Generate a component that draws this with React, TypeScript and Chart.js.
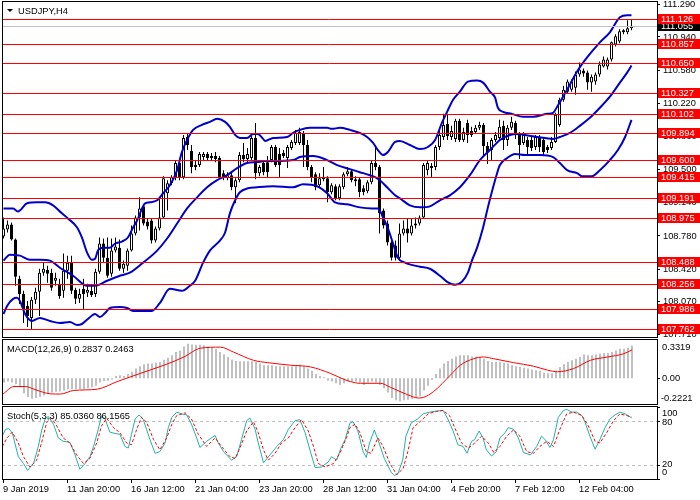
import React, { useEffect, useRef } from "react";
import { Chart, registerables } from "chart.js";

Chart.register(...registerables);

// ---------------- DATA ----------------
const symbolTitle = "USDJPY,H4";

const opens = [
  108.769, 108.845, 108.900, 108.736, 108.310, 108.146, 108.015, 107.884, 108.081, 108.168,
  108.376, 108.408, 108.376, 108.288, 108.255, 108.179, 108.398, 108.485, 108.190, 108.092,
  108.201, 108.157, 108.179, 108.146, 108.387, 108.692, 108.539, 108.365, 108.616, 108.648,
  108.419, 108.452, 108.616, 108.801, 108.976, 109.096, 108.932, 108.943, 108.725, 108.856,
  108.976, 109.238, 109.347, 109.413, 109.566, 109.413, 109.849, 109.696, 109.522, 109.544,
  109.631, 109.664, 109.620, 109.642, 109.620, 109.456, 109.402, 109.434, 109.303, 109.380,
  109.653, 109.609, 109.620, 109.838, 109.456, 109.566, 109.576, 109.598, 109.740, 109.664,
  109.675, 109.620, 109.729, 109.784, 109.784, 109.893, 109.762, 109.522, 109.445, 109.325,
  109.391, 109.402, 109.249, 109.314, 109.183, 109.303, 109.445, 109.478, 109.391, 109.391,
  109.292, 109.260, 109.358, 109.566, 109.522, 109.052, 108.910, 108.703, 108.670, 108.539,
  108.801, 108.856, 108.801, 108.889, 108.910, 108.976, 109.489, 109.511, 109.522, 109.740,
  109.849, 109.991, 109.849, 109.828, 110.024, 109.817, 110.002, 109.915, 109.904, 109.948,
  109.980, 109.751, 109.707, 109.817, 109.838, 109.970, 109.817, 109.948, 110.002, 109.871,
  109.784, 109.817, 109.817, 109.740, 109.838, 109.817, 109.740, 109.729, 109.795, 109.980,
  110.253, 110.341, 110.362, 110.384, 110.526, 110.570, 110.548, 110.439, 110.450, 110.526,
  110.614, 110.614, 110.690, 110.854, 110.886, 111.007, 110.985, 111.028,
];

const highs = [
  108.976, 108.943, 108.921, 108.747, 108.343, 108.179, 108.070, 108.113, 108.212, 108.419,
  108.485, 108.452, 108.419, 108.376, 108.310, 108.583, 108.561, 108.561, 108.212, 108.201,
  108.310, 108.255, 108.234, 108.419, 108.758, 108.747, 108.758, 108.747, 108.758, 108.736,
  108.507, 108.638, 108.889, 108.998, 109.194, 109.107, 108.965, 108.965, 108.878, 109.194,
  109.423, 109.380, 109.434, 109.598, 109.598, 109.871, 109.893, 109.762, 109.598, 109.686,
  109.686, 109.686, 109.675, 109.686, 109.642, 109.489, 109.467, 109.467, 109.402, 109.686,
  109.784, 109.729, 109.860, 110.002, 109.544, 109.598, 109.642, 109.762, 109.762, 109.729,
  109.707, 109.762, 109.817, 109.926, 109.948, 109.915, 109.817, 109.544, 109.467, 109.456,
  109.522, 109.423, 109.347, 109.336, 109.336, 109.467, 109.522, 109.500, 109.423, 109.413,
  109.325, 109.380, 109.598, 109.762, 109.544, 109.074, 108.943, 108.725, 108.725, 108.910,
  108.943, 108.965, 108.965, 108.976, 108.998, 109.566, 109.587, 109.566, 109.762, 109.948,
  110.100, 110.100, 109.970, 110.046, 110.046, 109.948, 110.035, 109.959, 109.980, 110.013,
  110.002, 109.795, 109.838, 109.904, 110.035, 110.024, 109.980, 110.068, 110.024, 109.904,
  109.904, 109.849, 109.849, 109.871, 109.871, 109.838, 109.762, 109.849, 110.111, 110.275,
  110.406, 110.472, 110.472, 110.559, 110.657, 110.592, 110.570, 110.526, 110.548, 110.668,
  110.723, 110.712, 110.886, 110.963, 111.017, 111.017, 111.116, 111.127,
];

const lows = [
  108.747, 108.812, 108.725, 108.234, 108.037, 107.830, 107.786, 107.764, 108.037, 107.906,
  108.343, 108.266, 108.179, 108.234, 108.092, 108.103, 108.310, 108.146, 108.037, 108.048,
  107.982, 108.113, 108.113, 108.113, 108.365, 108.485, 108.321, 108.332, 108.594, 108.398,
  108.376, 108.398, 108.605, 108.780, 108.834, 108.889, 108.845, 108.692, 108.703, 108.834,
  108.965, 109.052, 109.325, 109.380, 109.380, 109.391, 109.707, 109.456, 109.489, 109.522,
  109.598, 109.598, 109.598, 109.576, 109.391, 109.380, 109.380, 109.271, 109.129, 109.358,
  109.576, 109.576, 109.598, 109.391, 109.423, 109.434, 109.413, 109.576, 109.522, 109.413,
  109.620, 109.511, 109.707, 109.762, 109.762, 109.522, 109.489, 109.358, 109.271, 109.303,
  109.369, 109.140, 109.227, 109.162, 109.162, 109.282, 109.423, 109.358, 109.314, 109.194,
  109.216, 109.238, 109.336, 109.489, 108.801, 108.856, 108.670, 108.507, 108.507, 108.507,
  108.780, 108.703, 108.780, 108.856, 108.889, 108.965, 109.434, 109.413, 109.489, 109.707,
  109.817, 109.817, 109.817, 109.795, 109.795, 109.795, 109.784, 109.849, 109.882, 109.926,
  109.653, 109.555, 109.598, 109.795, 109.817, 109.707, 109.751, 109.926, 109.828, 109.609,
  109.762, 109.653, 109.696, 109.707, 109.686, 109.653, 109.675, 109.707, 109.784, 109.959,
  110.232, 110.319, 110.341, 110.308, 110.504, 110.504, 110.362, 110.341, 110.417, 110.504,
  110.603, 110.581, 110.668, 110.832, 110.865, 110.963, 110.963, 111.007,
];

const closes = [
  108.856, 108.900, 108.736, 108.332, 108.146, 107.982, 107.906, 108.081, 108.168, 108.376,
  108.419, 108.365, 108.212, 108.321, 108.124, 108.398, 108.485, 108.179, 108.092, 108.146,
  108.146, 108.190, 108.135, 108.387, 108.692, 108.539, 108.343, 108.616, 108.659, 108.419,
  108.474, 108.616, 108.801, 108.976, 109.074, 108.910, 108.878, 108.725, 108.856, 108.976,
  109.402, 109.347, 109.413, 109.566, 109.413, 109.838, 109.762, 109.522, 109.544, 109.664,
  109.664, 109.620, 109.642, 109.609, 109.413, 109.402, 109.434, 109.303, 109.380, 109.653,
  109.609, 109.664, 109.838, 109.456, 109.522, 109.467, 109.467, 109.740, 109.544, 109.544,
  109.642, 109.740, 109.795, 109.893, 109.904, 109.762, 109.522, 109.413, 109.303, 109.402,
  109.413, 109.249, 109.325, 109.183, 109.314, 109.445, 109.478, 109.380, 109.369, 109.249,
  109.249, 109.358, 109.566, 109.522, 109.020, 108.889, 108.703, 108.539, 108.539, 108.801,
  108.856, 108.801, 108.889, 108.910, 108.976, 109.544, 109.566, 109.533, 109.740, 109.871,
  109.980, 109.860, 109.915, 110.024, 109.817, 109.904, 109.871, 109.871, 109.948, 109.980,
  109.751, 109.686, 109.817, 109.871, 109.959, 109.817, 109.948, 110.013, 109.871, 109.762,
  109.871, 109.740, 109.729, 109.849, 109.740, 109.686, 109.707, 109.795, 110.090, 110.253,
  110.362, 110.450, 110.450, 110.526, 110.581, 110.537, 110.439, 110.504, 110.526, 110.635,
  110.690, 110.690, 110.876, 110.941, 110.996, 110.985, 111.028, 111.055,
];

// Bollinger bands: [bar index, price]
const upperBand: [number, number][] = [
  [0, 109.074], [2.4, 109.074], [3.6, 109.041], [5.9, 109.129], [8.4, 109.14], [10.4, 109.14],
  [12.4, 109.107], [14.6, 109.02], [16.1, 108.965], [18.4, 108.867], [19.6, 108.758], [20.9, 108.594],
  [22.1, 108.517], [22.9, 108.528], [23.6, 108.616], [24.9, 108.648], [26.6, 108.648], [27.9, 108.692],
  [29.6, 108.714], [31.1, 108.758], [32.4, 108.867], [33.4, 108.943], [35.4, 109.129], [36.6, 109.14],
  [38.4, 109.162], [39.9, 109.238], [41.6, 109.325], [43.4, 109.489], [44.6, 109.686], [45.9, 109.817],
  [47.4, 109.926], [49.6, 109.98], [51.6, 110.013], [53.4, 110.046], [55.4, 110.013], [56.6, 109.959],
  [57.9, 109.871], [59.1, 109.838], [60.9, 109.838], [62.4, 109.882], [63.6, 109.882], [64.9, 109.828],
  [65.4, 109.806], [67.4, 109.838], [70.9, 109.849], [72.4, 109.893], [74.1, 109.926], [76.6, 109.948],
  [80.9, 109.948], [82.1, 109.937], [84.1, 109.948], [86.6, 109.926], [89.1, 109.893], [90.9, 109.849],
  [92.4, 109.784], [93.6, 109.707], [94.9, 109.653], [96.1, 109.686], [97.9, 109.795], [99.1, 109.806],
  [101.6, 109.762], [104.1, 109.718], [106.1, 109.74], [107.9, 109.817], [109.6, 110.002], [110.9, 110.122],
  [112.4, 110.253], [114.1, 110.341], [116.1, 110.45], [118.4, 110.461], [119.9, 110.439], [121.6, 110.341],
  [122.9, 110.275], [123.6, 110.166], [124.9, 110.122], [127.1, 110.1], [129.9, 110.068], [132.4, 110.068],
  [135.9, 110.1], [137.4, 110.111], [138.4, 110.177], [140.9, 110.362], [143.4, 110.559], [145.9, 110.712],
  [149.1, 110.876], [151.6, 110.985], [154.1, 111.148], [155.9, 111.17], [157, 111.17],
];

const middleBand: [number, number][] = [
  [0, 108.507], [1.6, 108.572], [4.1, 108.561], [6.6, 108.517], [9.1, 108.517], [11.6, 108.507],
  [14.1, 108.43], [17.4, 108.343], [20.9, 108.234], [22.9, 108.234], [25.9, 108.288], [29.1, 108.343],
  [31.6, 108.376], [34.9, 108.485], [38.4, 108.616], [40.9, 108.747], [43.4, 108.91], [45.9, 109.074],
  [48.4, 109.194], [50.9, 109.303], [53.4, 109.38], [55.9, 109.434], [58.4, 109.511], [60.9, 109.566],
  [63.4, 109.576], [65.4, 109.587], [67.4, 109.587], [72.4, 109.598], [74.1, 109.631], [77.4, 109.642],
  [80.9, 109.598], [83.4, 109.544], [86.6, 109.5], [89.1, 109.467], [91.6, 109.434], [92.9, 109.413],
  [94.1, 109.38], [95.9, 109.303], [97.9, 109.216], [99.1, 109.183], [101.6, 109.107], [104.1, 109.085],
  [106.6, 109.096], [109.1, 109.162], [111.6, 109.216], [114.1, 109.303], [116.6, 109.434], [119.1, 109.598],
  [121.6, 109.707], [124.1, 109.817], [126.6, 109.871], [128.4, 109.882], [130.4, 109.871], [133.4, 109.849],
  [137.4, 109.828], [139.1, 109.849], [141.6, 109.893], [144.1, 109.97], [146.6, 110.057], [149.1, 110.166],
  [151.6, 110.286], [154.1, 110.439], [155.9, 110.548], [157, 110.624],
];

const lowerBand: [number, number][] = [
  [0, 107.928], [0.9, 108.015], [2.4, 108.092], [3.4, 108.103], [4.1, 108.07], [5.4, 107.928],
  [7.1, 107.852], [9.1, 107.884], [11.6, 107.852], [14.1, 107.83], [16.6, 107.841], [18.4, 107.808],
  [19.6, 107.819], [21.1, 107.873], [22.9, 107.928], [24.1, 107.895], [25.4, 107.939], [26.6, 107.993],
  [29.1, 108.004], [30.9, 107.993], [32.4, 107.961], [37.1, 107.961], [39.1, 108.048], [41.6, 108.201],
  [44.6, 108.179], [46.6, 108.234], [47.9, 108.288], [49.9, 108.485], [51.6, 108.616], [54.1, 108.725],
  [55.4, 108.812], [56.6, 109.02], [57.9, 109.162], [59.1, 109.249], [61.1, 109.292], [63.4, 109.303],
  [67.4, 109.314], [72.4, 109.303], [74.9, 109.336], [78.4, 109.314], [80.9, 109.238], [82.9, 109.14],
  [85.9, 109.118], [89.1, 109.085], [92.1, 109.074], [93.6, 109.074], [94.9, 108.976], [96.1, 108.856],
  [97.4, 108.692], [98.6, 108.539], [100.4, 108.485], [104.1, 108.441], [106.6, 108.419], [109.1, 108.343],
  [110.9, 108.277], [112.9, 108.245], [114.6, 108.277], [116.1, 108.376], [117.1, 108.507], [118.4, 108.648],
  [119.9, 108.867], [121.1, 109.085], [122.4, 109.303], [123.4, 109.456], [124.1, 109.544], [125.9, 109.62],
  [127.9, 109.664], [130.4, 109.653], [134.1, 109.653], [137.4, 109.631], [139.1, 109.566], [140.9, 109.489],
  [143.4, 109.456], [144.6, 109.423], [147.1, 109.423], [149.1, 109.489], [151.6, 109.598], [153.6, 109.707],
  [155.4, 109.849], [157, 110.035],
];

const levelPrices = [
  111.126, 110.857, 110.65, 110.327, 110.102, 109.894, 109.6,
  109.415, 109.191, 108.975, 108.488, 108.256, 107.986, 107.762,
];
const currentPrice = 111.055;
const priceTicks = [111.29, 110.94, 110.58, 110.22, 109.86, 109.5, 109.14, 108.78, 108.42, 108.07, 107.71];
const priceMin = 107.678;
const priceMax = 111.314;

// MACD(12,26,9)
const macdHist = [
  -0.037, -0.028, -0.037, -0.048, -0.077, -0.128, -0.162, -0.177, -0.171, -0.162,
  -0.148, -0.134, -0.122, -0.117, -0.114, -0.105, -0.094, -0.094, -0.094, -0.094,
  -0.094, -0.085, -0.077, -0.065, -0.037, -0.023, -0.02, -0.009, 0.02, 0.026,
  0.02, 0.037, 0.057, 0.085, 0.105, 0.122, 0.128, 0.128, 0.134, 0.142,
  0.162, 0.179, 0.199, 0.228, 0.242, 0.276, 0.299, 0.293, 0.29, 0.29,
  0.287, 0.276, 0.27, 0.256, 0.228, 0.208, 0.185, 0.162, 0.151, 0.148,
  0.148, 0.148, 0.148, 0.142, 0.128, 0.114, 0.114, 0.114, 0.105, 0.105,
  0.105, 0.105, 0.105, 0.114, 0.12, 0.105, 0.085, 0.065, 0.037, 0.02,
  0.009, -0.02, -0.028, -0.043, -0.057, -0.043, -0.028, -0.028, -0.028, -0.037,
  -0.057, -0.037, -0.028, -0.037, -0.057, -0.085, -0.122, -0.17, -0.19, -0.199,
  -0.19, -0.185, -0.179, -0.17, -0.156, -0.105, -0.065, -0.014, 0.037, 0.085,
  0.128, 0.151, 0.17, 0.19, 0.199, 0.199, 0.199, 0.19, 0.19, 0.185,
  0.17, 0.151, 0.142, 0.142, 0.142, 0.134, 0.128, 0.114, 0.105, 0.099,
  0.091, 0.085, 0.077, 0.071, 0.065, 0.048, 0.043, 0.043, 0.065, 0.099,
  0.122, 0.142, 0.156, 0.17, 0.185, 0.207, 0.199, 0.199, 0.207, 0.213,
  0.219, 0.219, 0.227, 0.241, 0.256, 0.256, 0.264, 0.2837,
];
const macdSignal: [number, number][] = [
  [-0.2, -0.134], [2.5, -0.071], [5.4, -0.071], [7.5, -0.094], [11.6, -0.134], [14.1, -0.136],
  [17.4, -0.105], [23.3, -0.094], [28.3, -0.028], [34.1, 0.043], [40, 0.114], [45, 0.185],
  [49.1, 0.261], [54.1, 0.27], [57.4, 0.227], [62.4, 0.156], [65.9, 0.136], [71.6, 0.114],
  [76.6, 0.099], [81.6, 0.043], [85, -0.009], [86.6, -0.028], [89.1, -0.043], [94.1, -0.043],
  [96.6, -0.077], [100.9, -0.142], [103.6, -0.17], [104.9, -0.165], [107.4, -0.114], [111.6, 0.028],
  [114.1, 0.114], [117.4, 0.17], [119.9, 0.185], [122.4, 0.17], [127.4, 0.136], [132.4, 0.105],
  [135.9, 0.071], [138.4, 0.057], [142.4, 0.085], [146.6, 0.156], [150.9, 0.185], [154.9, 0.213],
  [157, 0.2463],
];
const macdMax = 0.3319;
const macdMin = -0.2221;
const macdTitle = "MACD(12,26,9) 0.2837 0.2463";

// Stochastic(5,3,3)
const stochMain: [number, number][] = [
  [-0.3, 59.5], [0.5, 69], [1.3, 70], [2.2, 64], [3.7, 31], [5, 21.5], [6, 12], [7.5, 21.5], [8.7, 45],
  [9.5, 66.7], [10.4, 83.3], [11.2, 87], [12.5, 76], [13.7, 57], [14.9, 52.4], [16.6, 51], [17.9, 33.4],
  [19.1, 13.4], [20.4, 21.5], [21.6, 31], [22.5, 45], [23.7, 69], [24.5, 88], [25.4, 83.3], [26.6, 65],
  [27.9, 63.3], [29.1, 62], [30.4, 45], [31.2, 43], [32, 62], [32.9, 83.3], [33.9, 89], [34.9, 83.3],
  [36.6, 55], [37.9, 35.7], [39.1, 38], [40.4, 50], [41.2, 71.4], [42.1, 85.7], [43.3, 92.8], [44.5, 90.5],
  [45.8, 89], [47, 76], [48.3, 57], [49.1, 43.8], [50.8, 52.4], [52.9, 60.5], [53.7, 50], [55, 38],
  [57, 26.2], [58.3, 31], [59.5, 54.8], [60.8, 81], [61.6, 84.8], [62.9, 69], [63.7, 50], [65, 22.4],
  [66.6, 33.4], [68.3, 45], [70, 54.8], [71.2, 69], [72.9, 81], [74.1, 82.4], [75.4, 64.3], [76.6, 40.5],
  [77.9, 15.7], [79.5, 16.7], [81.2, 23.8], [82, 31], [83.3, 26.2], [84.3, 42], [85.4, 54.8], [86.6, 77.6],
  [87.4, 79.5], [88.6, 66.7], [89.9, 38], [90.7, 30], [91.5, 50], [92.7, 68], [93.6, 54.8], [95.2, 28.6],
  [96.9, 9.5], [97.7, 4.8], [98.6, 7.2], [99.8, 26.2], [100.6, 59.5], [101.9, 77.6], [103.5, 83.3],
  [104.9, 90.5], [106.6, 92.9], [108.2, 94.3], [109.9, 95.2], [111.1, 83.3], [112.4, 66.7], [113.6, 47.6],
  [114.9, 45.2], [115.9, 35.7], [117, 52.4], [117.8, 54.8], [118.9, 66.7], [119.9, 57.1], [120.7, 40.5],
  [122, 31.9], [123.2, 38], [124.1, 57.1], [125.4, 64.3], [126.2, 71.4], [127.5, 69], [128.7, 57.1],
  [130, 36.7], [131.7, 33.4], [133.3, 45.2], [134.5, 59.5], [135.4, 54.8], [136.6, 43.8], [137.5, 54.8],
  [138.7, 85.7], [140, 95.2], [140.8, 96.7], [142.1, 92.9], [143.3, 92.9], [144.6, 88.1], [145.4, 78.6],
  [146.6, 59.5], [147.9, 41.4], [149.1, 54.8], [150.4, 71.4], [151.6, 83.3], [152.9, 89], [154.1, 92.9],
  [155.4, 90.5], [157, 85.036],
];
const stochSignal: [number, number][] = [
  [-0.3, 45.2], [0.9, 57.1], [2.2, 65.2], [3.7, 50], [5, 31], [6.6, 16.7], [8.3, 26.2], [9.5, 50],
  [10.8, 78.6], [12, 84.3], [13.3, 73.8], [14.9, 57.1], [16.6, 50], [18.3, 33.4], [20, 21.5], [21.6, 28.6],
  [23.3, 50], [24.5, 73.8], [25.8, 84.3], [27.5, 71.4], [29.1, 64.3], [30.8, 50], [32, 47.6], [33.3, 69],
  [34.5, 85.7], [35.8, 78.6], [37.5, 54.8], [39.1, 40.5], [40.8, 57.1], [42.1, 76.2], [43.3, 88.1],
  [45.4, 91.9], [47, 83.3], [48.7, 62], [50.8, 45.2], [52.9, 57.1], [54.5, 45.2], [56.6, 31], [57.9, 28.6],
  [59.1, 42.9], [60.8, 66.7], [62.5, 79.5], [63.7, 64.3], [65, 40.5], [66.2, 26.2], [67.9, 35.7], [69.5, 50],
  [71.2, 57.1], [72.9, 71.4], [74.5, 82.4], [76.2, 66.7], [77.5, 45.2], [78.7, 21.5], [80.4, 16.7],
  [82.5, 21.5], [84.1, 36], [85.8, 58], [86.6, 71.4], [87.9, 76.2], [89.1, 64.3], [90.7, 38], [91.9, 35.7],
  [93.6, 57.1], [94.9, 45.2], [96.6, 21.5], [98.3, 6.2], [99.9, 14.3], [101.2, 40.5], [102.4, 71.4],
  [104.1, 79.5], [106.2, 90.5], [108.2, 93.8], [109.9, 95.2], [111.5, 88.1], [112.8, 71.4], [114.5, 50],
  [116.2, 42.9], [117.8, 50], [119.5, 59.5], [121.2, 50], [122.6, 36.7], [124.1, 45.2], [125.8, 59.5],
  [127.5, 68.1], [129.1, 59.5], [130.8, 38], [132.5, 35.7], [134.1, 45.2], [135.8, 52.4], [137.5, 45.2],
  [139.1, 69], [140.8, 90.5], [142.5, 92.9], [144.6, 88.1], [146.2, 73.8], [147.9, 52.4], [149.1, 50],
  [150.8, 64.3], [152.5, 81], [154.1, 90.5], [155.8, 88.1], [157, 86.1565],
];
const stochLevels = [80, 20];
const stochAxisLabels = [100, 80, 20, 0];
const stochTitle = "Stoch(5,3,3) 85.0360 86.1565";

// Time axis
const xTickIdx = [0, 16, 32, 48, 64, 80, 96, 112, 128, 144];
const xTickLabels = [
  "9 Jan 2019", "11 Jan 20:00", "16 Jan 12:00", "21 Jan 04:00", "23 Jan 20:00",
  "28 Jan 12:00", "31 Jan 04:00", "4 Feb 20:00", "7 Feb 12:00", "12 Feb 04:00",
];

// ---------------- STYLE ----------------
const FONT = '9.3px "Liberation Sans", Arial, sans-serif';
const BAND = "#0000C8";
const X_MIN = -0.375;
const X_MAX = 163.375;
const AXIS_X = 663;

function drawBorder(ctx: CanvasRenderingContext2D, ca: any) {
  ctx.save();
  ctx.strokeStyle = "#000";
  ctx.lineWidth = 1;
  ctx.strokeRect(ca.left + 0.5, ca.top - 0.5, ca.right - ca.left, ca.bottom - ca.top + 1);
  ctx.restore();
}

function text(ctx: CanvasRenderingContext2D, s: string, x: number, y: number, color: string, baseline: CanvasTextBaseline = "middle") {
  ctx.save();
  ctx.font = FONT;
  ctx.fillStyle = color;
  ctx.textAlign = "left";
  ctx.textBaseline = baseline;
  ctx.fillText(s, x, y);
  ctx.restore();
}

function tick(ctx: CanvasRenderingContext2D, x: number, y: number) {
  ctx.save();
  ctx.strokeStyle = "#000";
  ctx.lineWidth = 1;
  ctx.beginPath();
  ctx.moveTo(x, Math.round(y) + 0.5);
  ctx.lineTo(x + 3, Math.round(y) + 0.5);
  ctx.stroke();
  ctx.restore();
}

const baseOptions = (padding: any, xMin: number, xMax: number, yMin: number, yMax: number) => ({
  animation: false as const,
  responsive: false,
  maintainAspectRatio: false,
  events: [] as any[],
  layout: { padding },
  plugins: { legend: { display: false }, tooltip: { enabled: false } },
  scales: {
    x: { type: "linear" as const, min: xMin, max: xMax, display: false, offset: false },
    y: { type: "linear" as const, min: yMin, max: yMax, display: false },
  },
});

const mainDeco = {
  id: "mainDeco",
  afterDatasetsDraw(chart: any) {
    const { ctx, chartArea: ca, scales } = chart;
    ctx.save();
    ctx.beginPath();
    ctx.rect(ca.left, ca.top, ca.right - ca.left, ca.bottom - ca.top);
    ctx.clip();
    ctx.lineWidth = 1;
    ctx.strokeStyle = "#C0C0C0";
    const cy = Math.round(scales.y.getPixelForValue(currentPrice)) + 0.5;
    ctx.beginPath();
    ctx.moveTo(ca.left, cy);
    ctx.lineTo(ca.right, cy);
    ctx.stroke();
    ctx.strokeStyle = "#FF0000";
    levelPrices.forEach((p) => {
      const py = Math.round(scales.y.getPixelForValue(p)) + 0.5;
      ctx.beginPath();
      ctx.moveTo(ca.left, py);
      ctx.lineTo(ca.right, py);
      ctx.stroke();
    });
    ctx.restore();
  },
  afterDraw(chart: any) {
    const { ctx, chartArea: ca, scales } = chart;
    drawBorder(ctx, ca);
    // title
    ctx.save();
    ctx.fillStyle = "#000";
    ctx.beginPath();
    ctx.moveTo(7, 9);
    ctx.lineTo(13, 9);
    ctx.lineTo(10, 12);
    ctx.closePath();
    ctx.fill();
    ctx.restore();
    text(ctx, symbolTitle, 18, 14, "#000", "alphabetic");
    // price axis
    priceTicks.forEach((t) => {
      const py = scales.y.getPixelForValue(t);
      tick(ctx, ca.right, py);
      text(ctx, t.toFixed(3), AXIS_X, py + 0.5, "#000");
    });
    const cy = scales.y.getPixelForValue(currentPrice);
    ctx.save();
    ctx.fillStyle = "#000";
    ctx.fillRect(658, Math.round(cy) - 5, 42, 10);
    ctx.restore();
    text(ctx, currentPrice.toFixed(3), 661, Math.round(cy) + 0.5, "#fff");
    levelPrices.forEach((p) => {
      const py = Math.round(scales.y.getPixelForValue(p));
      ctx.save();
      ctx.fillStyle = "#FF0000";
      ctx.fillRect(658, py - 5, 42, 10);
      ctx.restore();
      text(ctx, p.toFixed(3), 661, py + 0.5, "#fff");
    });
  },
};

const macdDeco = {
  id: "macdDeco",
  afterDraw(chart: any) {
    const { ctx, chartArea: ca, scales } = chart;
    drawBorder(ctx, ca);
    text(ctx, macdTitle, 7, 14, "#000", "alphabetic");
    const y0 = scales.y.getPixelForValue(0);
    tick(ctx, ca.right, y0);
    text(ctx, macdMax.toFixed(4), 662, scales.y.getPixelForValue(macdMax) + 7, "#000");
    text(ctx, (0).toFixed(2), 662, y0 + 0.5, "#000");
    text(ctx, macdMin.toFixed(4), 661, scales.y.getPixelForValue(macdMin) - 6, "#000");
  },
};

const stochDeco = {
  id: "stochDeco",
  beforeDatasetsDraw(chart: any) {
    const { ctx, chartArea: ca, scales } = chart;
    ctx.save();
    ctx.strokeStyle = "#C0C0C0";
    ctx.lineWidth = 1;
    ctx.setLineDash([3, 3]);
    stochLevels.forEach((v) => {
      const py = Math.round(scales.y.getPixelForValue(v)) + 0.5;
      ctx.beginPath();
      ctx.moveTo(ca.left, py);
      ctx.lineTo(ca.right, py);
      ctx.stroke();
    });
    ctx.restore();
  },
  afterDraw(chart: any) {
    const { ctx, chartArea: ca, scales } = chart;
    drawBorder(ctx, ca);
    text(ctx, stochTitle, 7, 14, "#000", "alphabetic");
    stochAxisLabels.forEach((v) => {
      const py = scales.y.getPixelForValue(v);
      let off = 0;
      if (v === 100) off = 6;
      else if (v === 0) off = -6.5;
      else if (v === 80) off = 1.5;
      tick(ctx, ca.right, py);
      text(ctx, String(v), 662, py + off, "#000");
    });
    // time axis
    ctx.save();
    ctx.strokeStyle = "#000";
    ctx.lineWidth = 1;
    xTickIdx.forEach((i) => {
      const px = Math.floor(scales.x.getPixelForValue(i)) + 0.5;
      ctx.beginPath();
      ctx.moveTo(px, ca.bottom);
      ctx.lineTo(px, ca.bottom + 4);
      ctx.stroke();
    });
    ctx.restore();
    xTickIdx.forEach((i, k) => {
      const px = scales.x.getPixelForValue(i);
      text(ctx, xTickLabels[k], Math.round(px) - 1, ca.bottom + 13, "#000", "alphabetic");
    });
  },
};

export default function App() {
  const mainRef = useRef<HTMLCanvasElement>(null);
  const macdRef = useRef<HTMLCanvasElement>(null);
  const stochRef = useRef<HTMLCanvasElement>(null);

  useEffect(() => {
    const idx = opens.map((_, i) => i);
    const toPts = (arr: [number, number][]) => arr.map(([x, y]) => ({ x, y }));

    const main = new Chart(mainRef.current as HTMLCanvasElement, {
      type: "bar",
      data: {
        datasets: [
          { type: "line", data: toPts(upperBand), borderColor: BAND, borderWidth: 2, pointRadius: 0, cubicInterpolationMode: "monotone", order: 0 } as any,
          { type: "line", data: toPts(middleBand), borderColor: BAND, borderWidth: 2, pointRadius: 0, cubicInterpolationMode: "monotone", order: 0 } as any,
          { type: "line", data: toPts(lowerBand), borderColor: BAND, borderWidth: 2, pointRadius: 0, cubicInterpolationMode: "monotone", order: 0 } as any,
          {
            type: "bar",
            data: idx.map((i) => ({ x: i, y: [Math.min(opens[i], closes[i]), Math.max(opens[i], closes[i])] })),
            backgroundColor: idx.map((i) => (closes[i] >= opens[i] ? "#FFFFFF" : "#000000")),
            borderColor: "#000",
            borderWidth: 1,
            borderSkipped: false,
            barThickness: 3,
            grouped: false,
            inflateAmount: 0,
            order: 1,
          } as any,
          {
            type: "bar",
            data: idx.map((i) => ({ x: i, y: [lows[i], highs[i]] })),
            backgroundColor: "#000",
            borderWidth: 0,
            barThickness: 1,
            grouped: false,
            inflateAmount: 0,
            order: 2,
          } as any,
        ],
      },
      options: baseOptions({ left: 2, right: 43, top: 2, bottom: 1 }, X_MIN, X_MAX, priceMin, priceMax) as any,
      plugins: [mainDeco],
    });

    const macd = new Chart(macdRef.current as HTMLCanvasElement, {
      type: "bar",
      data: {
        datasets: [
          { type: "line", data: toPts(macdSignal), borderColor: "#FF0000", borderWidth: 1, pointRadius: 0, cubicInterpolationMode: "monotone", order: 0 } as any,
          {
            type: "bar",
            data: idx.map((i) => ({ x: i, y: macdHist[i] })),
            backgroundColor: "#C0C0C0",
            borderWidth: 0,
            barThickness: 2,
            grouped: false,
            inflateAmount: 0,
            order: 1,
          } as any,
        ],
      },
      options: baseOptions({ left: 2, right: 43, top: 2, bottom: 1 }, -0.5, 163.25, macdMin, macdMax) as any,
      plugins: [macdDeco],
    });

    const stoch = new Chart(stochRef.current as HTMLCanvasElement, {
      type: "line",
      data: {
        datasets: [
          { data: toPts(stochSignal), borderColor: "#FF0000", borderWidth: 1, borderDash: [3, 2], pointRadius: 0, tension: 0, order: 0 } as any,
          { data: toPts(stochMain), borderColor: "#20B2AA", borderWidth: 1, pointRadius: 0, tension: 0, order: 1 } as any,
        ],
      },
      options: baseOptions({ left: 2, right: 43, top: 2, bottom: 21 }, X_MIN, X_MAX, 0, 100) as any,
      plugins: [stochDeco],
    });

    return () => {
      main.destroy();
      macd.destroy();
      stoch.destroy();
    };
  }, []);

  return (
    <div style={{ position: "absolute", left: 0, top: 0, width: 700, height: 500, background: "#fff" }}>
      <canvas ref={mainRef} width={700} height={338} style={{ position: "absolute", left: 0, top: 0, width: 700, height: 338 }} />
      <canvas ref={macdRef} width={700} height={67} style={{ position: "absolute", left: 0, top: 338, width: 700, height: 67 }} />
      <canvas ref={stochRef} width={700} height={95} style={{ position: "absolute", left: 0, top: 405, width: 700, height: 95 }} />
    </div>
  );
}
